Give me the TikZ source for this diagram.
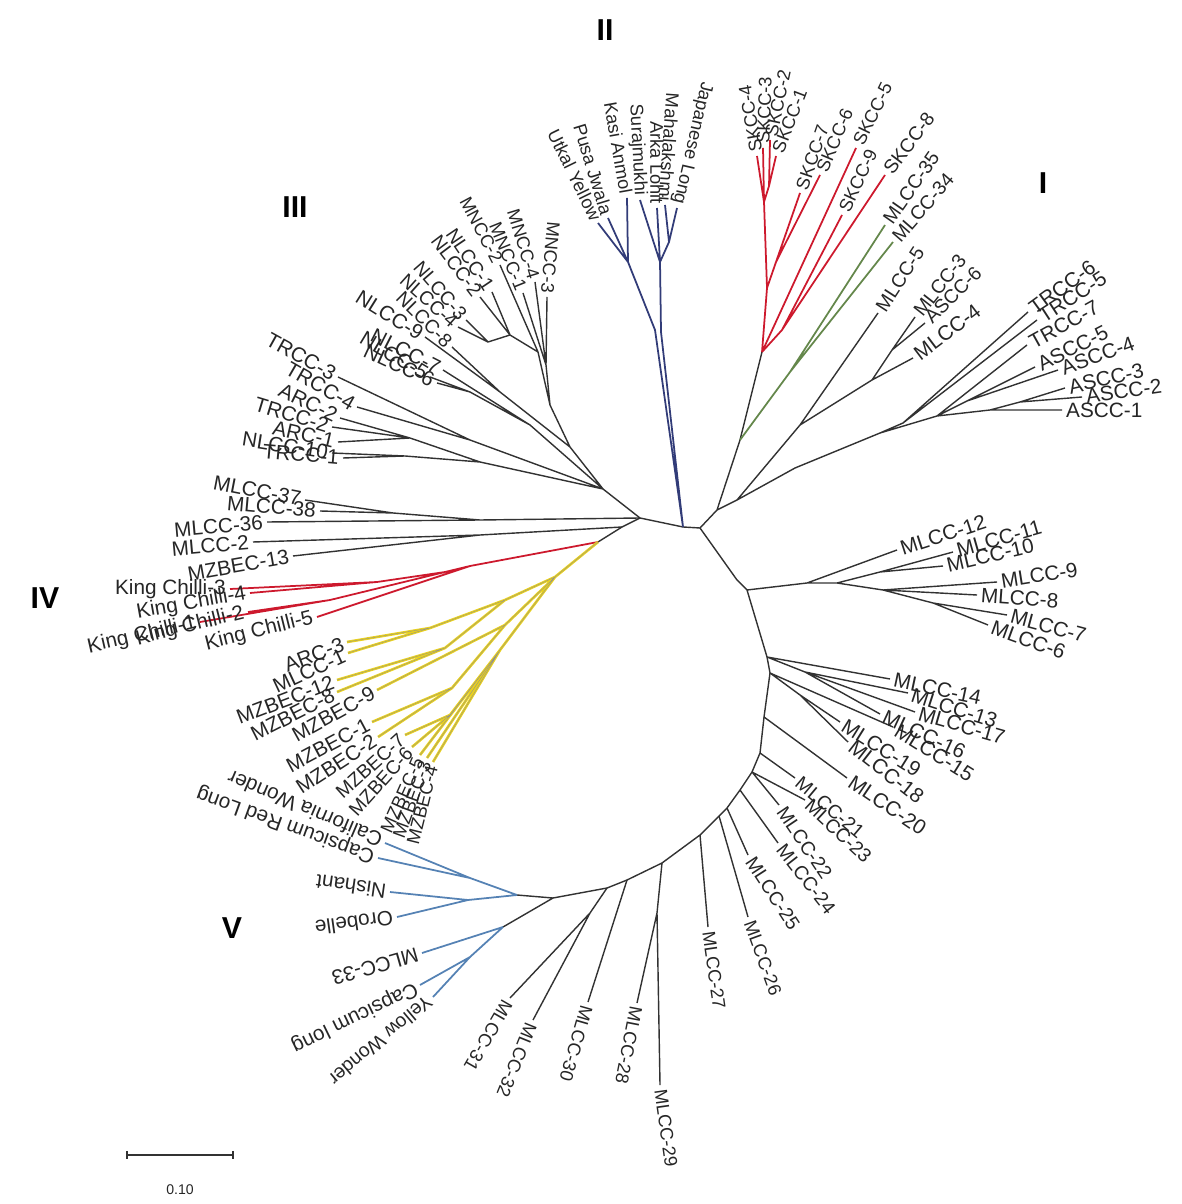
\documentclass[tikz,border=0pt]{standalone}
\usepackage{fontspec}
\setmainfont{Liberation Sans}
\definecolor{linec}{RGB}{50,50,50}
\definecolor{redc}{RGB}{205,25,45}
\definecolor{greenc}{RGB}{100,135,75}
\definecolor{navyc}{RGB}{50,60,120}
\definecolor{yelc}{RGB}{232,208,30}
\definecolor{bluec}{RGB}{85,130,180}

\begin{document}
\begin{tikzpicture}[x=0.01cm,y=-0.01cm,
	every node/.style={font=\fontsize{5.9}{7}\selectfont,inner sep=1pt,text=black!85},
	lblw/.style={anchor=west},
	lble/.style={anchor=east},
	steep/.style={font=\fontsize{5.2}{6}\selectfont},
	mid/.style={font=\fontsize{5.5}{6.5}\selectfont},
	clade/.style={font=\fontsize{8.6}{10}\selectfont\bfseries,inner sep=0pt,text=black},
	blk/.style={draw=linec,line width=0.4pt},
	redbr/.style={draw=redc,line width=0.5pt},
	greenbr/.style={draw=greenc,line width=0.5pt},
	navybr/.style={draw=navyc,line width=0.5pt},
	yelbr/.style={draw=yelc,line width=0.75pt,postaction={draw=linec!55,line width=0.1pt}},
	bluebr/.style={draw=bluec,line width=0.5pt}]
	
	\useasboundingbox (0,0) rectangle (1181,1204);
	
	% centre and backbone
	\coordinate (A) at (640,518);
	\coordinate (bII) at (683,527);
	\coordinate (B) at (700,528);
	\coordinate (L2) at (622,527);
	\coordinate (kj) at (598,542);
	\coordinate (bb1) at (737,580);
	\coordinate (bb2) at (747,590);
	\coordinate (bb3) at (767,657);
	\coordinate (bb4) at (770,673);
	\coordinate (bb5) at (764,717);
	\coordinate (bb6) at (760,753);
	\coordinate (bb7) at (752,772);
	\coordinate (bb8) at (740,790);
	\coordinate (bb9) at (727,808);
	\coordinate (bb9a) at (719,816);
	\coordinate (bb10) at (700,835);
	\coordinate (bb11) at (662,863);
	\coordinate (bb12) at (627,880);
	\coordinate (bb13) at (607,888);
	\coordinate (bb14) at (553,898);
	
	% clade II
	\coordinate (b1) at (655,330);
	\coordinate (b1b) at (661,332);
	\coordinate (b2) at (628,262);
	\coordinate (b3) at (660,262);
	\coordinate (b4) at (669,242);
	\coordinate (utkal) at (598,223);
	\coordinate (pusa) at (608,218);
	\coordinate (kasi) at (627,198);
	\coordinate (suraj) at (640,200);
	\coordinate (arka) at (657,208);
	\coordinate (maha) at (665,205);
	\coordinate (jap) at (677,208);
	
	% clade I
	\coordinate (c0) at (717,510);
	\coordinate (c1) at (737,500);
	\coordinate (cg) at (740,440);
	\coordinate (r0) at (762,352);
	\coordinate (r1) at (767,288);
	\coordinate (r2) at (776,262);
	\coordinate (r3) at (764,202);
	\coordinate (r5) at (769,186);
	\coordinate (r4) at (782,330);
	\coordinate (g0) at (790,372);
	\coordinate (skcc4) at (757,156);
	\coordinate (skcc3) at (763,148);
	\coordinate (skcc2) at (770,140);
	\coordinate (skcc1) at (776,156);
	\coordinate (skcc7) at (800,193);
	\coordinate (skcc6) at (820,175);
	\coordinate (skcc5) at (856,148);
	\coordinate (skcc9) at (842,215);
	\coordinate (skcc8) at (885,175);
	\coordinate (mlcc35) at (885,225);
	\coordinate (mlcc34) at (893,242);
	\coordinate (c2) at (800,425);
	\coordinate (c4) at (872,380);
	\coordinate (cm3) at (892,350);
	\coordinate (mlcc5) at (878,313);
	\coordinate (mlcc3) at (915,317);
	\coordinate (ascc6) at (925,323);
	\coordinate (mlcc4) at (913,358);
	\coordinate (c3) at (795,468);
	\coordinate (tr0) at (880,433);
	\coordinate (tr1) at (903,423);
	\coordinate (tr2) at (937,416);
	\coordinate (tr3) at (967,401);
	\coordinate (as1) at (990,410);
	\coordinate (as2) at (1020,402);
	\coordinate (trcc6) at (1028,312);
	\coordinate (trcc5) at (1037,320);
	\coordinate (trcc7) at (1027,345);
	\coordinate (ascc5) at (1035,367);
	\coordinate (ascc4) at (1058,370);
	\coordinate (ascc3) at (1065,388);
	\coordinate (ascc2) at (1082,397);
	\coordinate (ascc1) at (1062,410);
	
	% clade III
	\coordinate (t0) at (603,489);
	\coordinate (t1) at (570,447);
	\coordinate (t3) at (550,405);
	\coordinate (m0) at (546,365);
	\coordinate (t5) at (538,352);
	\coordinate (nl0) at (510,335);
	\coordinate (nl0b) at (488,342);
	\coordinate (nl89) at (500,392);
	\coordinate (t4) at (530,425);
	\coordinate (nl56) at (470,392);
	\coordinate (t6) at (470,440);
	\coordinate (t2) at (480,462);
	\coordinate (t2a) at (410,438);
	\coordinate (t2b) at (405,456);
	\coordinate (mncc3) at (547,297);
	\coordinate (mncc4) at (535,282);
	\coordinate (mncc1) at (523,293);
	\coordinate (mncc2) at (500,265);
	\coordinate (nlcc1) at (492,292);
	\coordinate (nlcc2) at (480,297);
	\coordinate (nlcc3) at (466,320);
	\coordinate (nlcc4) at (458,327);
	\coordinate (nlcc8) at (452,347);
	\coordinate (nlcc9) at (425,337);
	\coordinate (nlcc7) at (443,370);
	\coordinate (nlcc5) at (430,377);
	\coordinate (nlcc6) at (437,383);
	\coordinate (trcc3) at (338,377);
	\coordinate (trcc4) at (357,407);
	\coordinate (arc2) at (340,418);
	\coordinate (trcc2) at (332,427);
	\coordinate (arc1) at (338,442);
	\coordinate (nlcc10) at (332,453);
	\coordinate (trcc1) at (343,458);
	
	% clade IV
	\coordinate (L1) at (480,520);
	\coordinate (L1a) at (393,513);
	\coordinate (Lm) at (480,535);
	\coordinate (mlcc37) at (305,500);
	\coordinate (mlcc38) at (320,511);
	\coordinate (mlcc36) at (267,522);
	\coordinate (mlcc2) at (253,542);
	\coordinate (mzbec13) at (293,556);
	\coordinate (k0) at (470,566);
	\coordinate (k1) at (445,572);
	\coordinate (k2) at (377,582);
	\coordinate (k3) at (330,600);
	\coordinate (kc3) at (230,589);
	\coordinate (kc4) at (250,593);
	\coordinate (kc1) at (200,622);
	\coordinate (kc2) at (248,612);
	\coordinate (kc5) at (317,617);
	\coordinate (y0) at (555,577);
	\coordinate (y1) at (505,600);
	\coordinate (y1a) at (430,628);
	\coordinate (y2) at (445,648);
	\coordinate (y3) at (505,625);
	\coordinate (y3a) at (452,688);
	\coordinate (y4) at (500,650);
	\coordinate (y4a) at (450,715);
	\coordinate (arc3) at (347,642);
	\coordinate (mlcc1) at (348,653);
	\coordinate (mzbec12) at (337,680);
	\coordinate (mzbec8) at (337,692);
	\coordinate (mzbec9) at (377,690);
	\coordinate (mzbec1) at (372,722);
	\coordinate (mzbec2) at (378,737);
	\coordinate (mzbec7) at (405,735);
	\coordinate (mzbec6) at (412,747);
	\coordinate (mzbec5) at (420,755);
	\coordinate (mzbec3) at (427,758);
	\coordinate (mzbec4) at (433,762);
	
	% MLCC arc
	\coordinate (n1) at (807,583);
	\coordinate (n2) at (837,583);
	\coordinate (n2a) at (880,572);
	\coordinate (n3) at (883,590);
	\coordinate (n4) at (933,603);
	\coordinate (mlcc12) at (897,550);
	\coordinate (mlcc11) at (953,552);
	\coordinate (mlcc10) at (943,566);
	\coordinate (mlcc9) at (997,582);
	\coordinate (mlcc8) at (977,595);
	\coordinate (mlcc7) at (1007,615);
	\coordinate (mlcc6) at (988,625);
	\coordinate (b13) at (805,672);
	\coordinate (b18) at (800,695);
	\coordinate (mlcc14) at (890,679);
	\coordinate (mlcc13) at (908,693);
	\coordinate (mlcc17) at (915,712);
	\coordinate (mlcc16) at (880,714);
	\coordinate (mlcc15) at (893,727);
	\coordinate (mlcc19) at (840,722);
	\coordinate (mlcc18) at (848,742);
	\coordinate (mlcc20) at (847,778);
	\coordinate (mlcc21) at (795,778);
	\coordinate (mlcc23) at (805,800);
	\coordinate (mlcc22) at (779,805);
	\coordinate (mlcc24) at (778,843);
	\coordinate (mlcc25) at (748,855);
	\coordinate (mlcc26) at (748,917);
	\coordinate (mlcc27) at (708,927);
	\coordinate (b28) at (657,913);
	\coordinate (mlcc28) at (637,1003);
	\coordinate (mlcc29) at (660,1085);
	\coordinate (mlcc30) at (588,1002);
	\coordinate (b31) at (590,913);
	\coordinate (mlcc31) at (510,998);
	\coordinate (mlcc32) at (533,1020);
	
	% clade V
	\coordinate (v1) at (517,895);
	\coordinate (v2) at (470,878);
	\coordinate (v3) at (468,900);
	\coordinate (v4) at (503,927);
	\coordinate (v5) at (470,957);
	\coordinate (calw) at (385,843);
	\coordinate (caprl) at (378,858);
	\coordinate (nish) at (390,892);
	\coordinate (orob) at (397,917);
	\coordinate (mlcc33) at (422,953);
	\coordinate (caplong) at (420,985);
	\coordinate (yelw) at (433,997);
	
	% branches
	\draw[blk] (A) -- (bII) -- (B) -- (bb1) -- (bb2) -- (bb3) -- (bb4) -- (bb5) -- (bb6) -- (bb7) -- (bb8) -- (bb9) -- (bb9a) -- (bb10) -- (bb11) -- (bb12) -- (bb13) -- (bb14);
	\draw[blk] (A) -- (L2) -- (kj) (A) -- (t0);
	\draw[navybr] (bII) -- (b1) -- (b2) -- (utkal) (b2) -- (pusa) (b2) -- (kasi)
		(bII) -- (b1b) -- (b3) -- (suraj) (b3) -- (arka) (b3) -- (b4) -- (maha) (b4) -- (jap);
	\draw[blk] (B) -- (c0) -- (cg) -- (r0) (c0) -- (c1) -- (c2) -- (mlcc5) (c2) -- (c4) -- (cm3) -- (mlcc3) (cm3) -- (ascc6) (c4) -- (mlcc4)
		(c1) -- (c3) -- (tr0) -- (tr1) -- (trcc6) (tr1) -- (trcc5) (tr0) -- (tr2) -- (trcc7) (tr2) -- (tr3) -- (ascc5) (tr3) -- (ascc4)
		(tr2) -- (as1) -- (ascc1) (as1) -- (as2) -- (ascc3) (as2) -- (ascc2);
	\draw[redbr] (r0) -- (r1) -- (r3) -- (skcc4) (r3) -- (skcc3) (r3) -- (r5) -- (skcc2) (r5) -- (skcc1)
		(r1) -- (r2) -- (skcc7) (r2) -- (skcc6) (r0) -- (skcc5) (r0) -- (r4) -- (skcc9) (r4) -- (skcc8);
	\draw[greenbr] (cg) -- (g0) -- (mlcc35) (g0) -- (mlcc34);
	\draw[blk] (t0) -- (t1) -- (t3) -- (m0) -- (mncc3) (m0) -- (mncc4) (m0) -- (mncc1) (t3) -- (t5) -- (mncc2)
		(t5) -- (nl0) -- (nlcc1) (nl0) -- (nlcc2) (nl0) -- (nl0b) -- (nlcc3) (nl0b) -- (nlcc4)
		(t1) -- (nl89) -- (nlcc8) (nl89) -- (nlcc9) (t0) -- (t4) -- (nlcc7) (t4) -- (nl56) -- (nlcc5) (nl56) -- (nlcc6)
		(t0) -- (t6) -- (trcc3) (t6) -- (trcc4) (t0) -- (t2) -- (t2a) -- (arc2) (t2a) -- (trcc2) (t2a) -- (arc1)
		(t2) -- (t2b) -- (nlcc10) (t2b) -- (trcc1);
	\draw[blk] (A) -- (L1) -- (L1a) -- (mlcc37) (L1a) -- (mlcc38) (L1) -- (mlcc36) (L2) -- (Lm) -- (mlcc2) (Lm) -- (mzbec13);
	\draw[redbr] (kj) -- (k0) -- (kc5) (k0) -- (k1) -- (k2) -- (kc3) (k2) -- (kc4) (k1) -- (k3) -- (kc1) (k3) -- (kc2);
	\draw[yelbr] (kj) -- (y0) -- (y1) -- (y1a) -- (arc3) (y1a) -- (mlcc1) (y1) -- (y2) -- (mzbec12) (y2) -- (mzbec8)
		(y0) -- (y3) -- (mzbec9) (y3) -- (y3a) -- (mzbec1) (y3a) -- (mzbec2)
		(y0) -- (y4) -- (y4a) -- (mzbec7) (y4a) -- (mzbec6) (y4) -- (mzbec5) (y4) -- (mzbec3) (y4) -- (mzbec4);
	\draw[blk] (bb2) -- (n1) -- (mlcc12) (n1) -- (n2) -- (n2a) -- (mlcc11) (n2a) -- (mlcc10) (n2) -- (n3) -- (mlcc9) (n3) -- (mlcc8)
		(n3) -- (n4) -- (mlcc7) (n4) -- (mlcc6);
	\draw[blk] (bb3) -- (mlcc14) (bb3) -- (b13) -- (mlcc13) (b13) -- (mlcc17) (b13) -- (mlcc16) (bb4) -- (mlcc15)
		(bb4) -- (b18) -- (mlcc19) (b18) -- (mlcc18) (bb5) -- (mlcc20) (bb6) -- (mlcc21) (bb7) -- (mlcc23) (bb7) -- (mlcc22)
		(bb8) -- (mlcc24) (bb9) -- (mlcc25) (bb9a) -- (mlcc26) (bb10) -- (mlcc27) (bb11) -- (b28) -- (mlcc28) (b28) -- (mlcc29)
		(bb12) -- (mlcc30) (bb13) -- (b31) -- (mlcc31) (b31) -- (mlcc32);
	\draw[blk] (bb14) -- (v1) (bb14) -- (v4);
	\draw[bluebr] (v1) -- (v2) -- (calw) (v2) -- (caprl) (v1) -- (v3) -- (nish) (v3) -- (orob)
		(v4) -- (mlcc33) (v4) -- (v5) -- (caplong) (v5) -- (yelw);
	
	% labels
	\node[lble,steep,rotate=-64] (l-utkal) at (utkal) {Utkal Yellow};
	\node[lble,steep,rotate=-73] (l-pusa) at (pusa) {Pusa Jwala};
	\node[lble,steep,rotate=-80] (l-kasi) at (kasi) {Kasi Anmol};
	\node[lble,steep,rotate=-87] (l-suraj) at (suraj) {Surajmukhi};
	\node[lble,steep,rotate=-90] (l-arka) at (arka) {Arka Lohit};
	\node[lble,steep,rotate=-94] (l-maha) at (maha) {Mahalakshmi};
	\node[lble,steep,rotate=-103] (l-jap) at (jap) {Japanese Long};
	
	\node[lblw,steep,rotate=100] (l-skcc4) at (skcc4) {SKCC-4};
	\node[lblw,steep,rotate=88] (l-skcc3) at (skcc3) {SKCC-3};
	\node[lblw,steep,rotate=78] (l-skcc2) at (skcc2) {SKCC-2};
	\node[lblw,steep,rotate=69] (l-skcc1) at (skcc1) {SKCC-1};
	\node[lblw,steep,rotate=71] (l-skcc7) at (skcc7) {SKCC-7};
	\node[lblw,steep,rotate=67] (l-skcc6) at (skcc6) {SKCC-6};
	\node[lblw,steep,rotate=64] (l-skcc5) at (skcc5) {SKCC-5};
	\node[lblw,steep,rotate=65] (l-skcc9) at (skcc9) {SKCC-9};
	\node[lblw,mid,rotate=53] (l-skcc8) at (skcc8) {SKCC-8};
	\node[lblw,mid,rotate=55] (l-mlcc35) at (mlcc35) {MLCC-35};
	\node[lblw,mid,rotate=49] (l-mlcc34) at (mlcc34) {MLCC-34};
	\node[lblw,mid,rotate=57] (l-mlcc5) at (mlcc5) {MLCC-5};
	\node[lblw,mid,rotate=52] (l-mlcc3) at (mlcc3) {MLCC-3};
	\node[lblw,mid,rotate=45] (l-ascc6) at (ascc6) {ASCC-6};
	\node[lblw,rotate=37] (l-mlcc4) at (mlcc4) {MLCC-4};
	\node[lblw,rotate=36] (l-trcc6) at (trcc6) {TRCC-6};
	\node[lblw,rotate=33] (l-trcc5) at (trcc5) {TRCC-5};
	\node[lblw,rotate=29] (l-trcc7) at (trcc7) {TRCC-7};
	\node[lblw,rotate=27] (l-ascc5) at (ascc5) {ASCC-5};
	\node[lblw,rotate=20] (l-ascc4) at (ascc4) {ASCC-4};
	\node[lblw,rotate=13] (l-ascc3) at (ascc3) {ASCC-3};
	\node[lblw,rotate=8] (l-ascc2) at (ascc2) {ASCC-2};
	\node[lblw,rotate=0] (l-ascc1) at (ascc1) {ASCC-1};
	
	\node[lblw,rotate=18] (l-mlcc12) at (mlcc12) {MLCC-12};
	\node[lblw,rotate=16] (l-mlcc11) at (mlcc11) {MLCC-11};
	\node[lblw,rotate=13] (l-mlcc10) at (mlcc10) {MLCC-10};
	\node[lblw,rotate=9] (l-mlcc9) at (mlcc9) {MLCC-9};
	\node[lblw,rotate=-4] (l-mlcc8) at (mlcc8) {MLCC-8};
	\node[lblw,rotate=-15] (l-mlcc7) at (mlcc7) {MLCC-7};
	\node[lblw,rotate=-20] (l-mlcc6) at (mlcc6) {MLCC-6};
	\node[lblw,rotate=-12] (l-mlcc14) at (mlcc14) {MLCC-14};
	\node[lblw,rotate=-18] (l-mlcc13) at (mlcc13) {MLCC-13};
	\node[lblw,rotate=-16] (l-mlcc17) at (mlcc17) {MLCC-17};
	\node[lblw,rotate=-25] (l-mlcc16) at (mlcc16) {MLCC-16};
	\node[lblw,rotate=-32] (l-mlcc15) at (mlcc15) {MLCC-15};
	\node[lblw,rotate=-32] (l-mlcc19) at (mlcc19) {MLCC-19};
	\node[lblw,rotate=-38] (l-mlcc18) at (mlcc18) {MLCC-18};
	\node[lblw,rotate=-34] (l-mlcc20) at (mlcc20) {MLCC-20};
	\node[lblw,mid,rotate=-40] (l-mlcc21) at (mlcc21) {MLCC-21};
	\node[lblw,mid,rotate=-43] (l-mlcc23) at (mlcc23) {MLCC-23};
	\node[lblw,mid,rotate=-56] (l-mlcc22) at (mlcc22) {MLCC-22};
	\node[lblw,mid,rotate=-52] (l-mlcc24) at (mlcc24) {MLCC-24};
	\node[lblw,mid,rotate=-57] (l-mlcc25) at (mlcc25) {MLCC-25};
	\node[lblw,steep,rotate=-70] (l-mlcc26) at (mlcc26) {MLCC-26};
	\node[lblw,steep,rotate=-82] (l-mlcc27) at (mlcc27) {MLCC-27};
	\node[lblw,steep,rotate=-82] (l-mlcc29) at (mlcc29) {MLCC-29};
	\node[lblw,steep,rotate=-101] (l-mlcc28) at (mlcc28) {MLCC-28};
	\node[lblw,steep,rotate=-106] (l-mlcc30) at (mlcc30) {MLCC-30};
	\node[lblw,steep,rotate=-112] (l-mlcc32) at (mlcc32) {MLCC-32};
	\node[lblw,steep,rotate=-120] (l-mlcc31) at (mlcc31) {MLCC-31};
	
	\node[lblw,rotate=157] (l-calw) at (calw) {California Wonder};
	\node[lblw,rotate=160] (l-caprl) at (caprl) {Capsicum Red Long};
	\node[lblw,rotate=172] (l-nish) at (nish) {Nishant};
	\node[lblw,rotate=188] (l-orob) at (orob) {Orobelle};
	\node[lblw,rotate=196] (l-mlcc33) at (mlcc33) {MLCC-33};
	\node[lblw,rotate=206] (l-caplong) at (caplong) {Capsicum long};
	\node[lblw,mid,rotate=220] (l-yelw) at (yelw) {Yellow Wonder};
	
	\node[lble,steep,rotate=-95] (l-mncc3) at (mncc3) {MNCC-3};
	\node[lble,steep,rotate=-73] (l-mncc4) at (mncc4) {MNCC-4};
	\node[lble,steep,rotate=-68] (l-mncc1) at (mncc1) {MNCC-1};
	\node[lble,steep,rotate=-62] (l-mncc2) at (mncc2) {MNCC-2};
	\node[lble,mid,rotate=-56] (l-nlcc1) at (nlcc1) {NLCC-1};
	\node[lble,mid,rotate=-53] (l-nlcc2) at (nlcc2) {NLCC-2};
	\node[lble,mid,rotate=-49] (l-nlcc3) at (nlcc3) {NLCC-3};
	\node[lble,mid,rotate=-42] (l-nlcc4) at (nlcc4) {NLCC-4};
	\node[lble,mid,rotate=-45] (l-nlcc8) at (nlcc8) {NLCC-8};
	\node[lble,rotate=-32] (l-nlcc9) at (nlcc9) {NLCC-9};
	\node[lble,rotate=-27] (l-nlcc7) at (nlcc7) {NLCC-7};
	\node[lble,rotate=-31] (l-nlcc5) at (nlcc5) {NLCC-5};
	\node[lble,rotate=-25] (l-nlcc6) at (nlcc6) {NLCC-6};
	\node[lble,rotate=-29] (l-trcc3) at (trcc3) {TRCC-3};
	\node[lble,rotate=-30] (l-trcc4) at (trcc4) {TRCC-4};
	\node[lble,rotate=-26] (l-arc2) at (arc2) {ARC-2};
	\node[lble,rotate=-17] (l-trcc2) at (trcc2) {TRCC-2};
	\node[lble,rotate=-13] (l-arc1) at (arc1) {ARC-1};
	\node[lble,rotate=-9] (l-nlcc10) at (nlcc10) {NLCC-10};
	\node[lble,rotate=-5] (l-trcc1) at (trcc1) {TRCC-1};
	
	\node[lble,rotate=-11] (l-mlcc37) at (mlcc37) {MLCC-37};
	\node[lble,rotate=-5] (l-mlcc38) at (mlcc38) {MLCC-38};
	\node[lble,rotate=5] (l-mlcc36) at (mlcc36) {MLCC-36};
	\node[lble,rotate=5] (l-mlcc2) at (mlcc2) {MLCC-2};
	\node[lble,rotate=10] (l-mzbec13) at (mzbec13) {MZBEC-13};
	\node[lble,rotate=0] (l-kc3) at (kc3) {King Chilli-3};
	\node[lble,rotate=10] (l-kc4) at (kc4) {King Chilli-4};
	\node[lble,rotate=13] (l-kc1) at (kc1) {King Chilli-1};
	\node[lble,rotate=14] (l-kc2) at (kc2) {King Chilli-2};
	\node[lble,rotate=14] (l-kc5) at (kc5) {King Chilli-5};
	\node[lble,rotate=21] (l-arc3) at (arc3) {ARC-3};
	\node[lble,rotate=25] (l-mlcc1) at (mlcc1) {MLCC-1};
	\node[lble,rotate=21] (l-mzbec12) at (mzbec12) {MZBEC-12};
	\node[lble,rotate=27] (l-mzbec8) at (mzbec8) {MZBEC-8};
	\node[lble,rotate=29] (l-mzbec9) at (mzbec9) {MZBEC-9};
	\node[lble,rotate=28] (l-mzbec1) at (mzbec1) {MZBEC-1};
	\node[lble,rotate=33] (l-mzbec2) at (mzbec2) {MZBEC-2};
	\node[lble,mid,rotate=42] (l-mzbec7) at (mzbec7) {MZBEC-7};
	\node[lble,mid,rotate=48] (l-mzbec6) at (mzbec6) {MZBEC-6};
	\node[lble,steep,rotate=66] (l-mzbec5) at (mzbec5) {MZBEC-5};
	\node[lble,steep,rotate=70] (l-mzbec3) at (mzbec3) {MZBEC-3};
	\node[lble,steep,rotate=76] (l-mzbec4) at (mzbec4) {MZBEC-4};
	
	% clade names and scale
	\node[clade] (nI) at (1043,183) {I};
	\node[clade] (nII) at (605,30) {II};
	\node[clade] (nIII) at (295,207) {III};
	\node[clade] (nIV) at (45,598) {IV};
	\node[clade] (nV) at (232,928) {V};
	\coordinate (sb0) at (127,1155);
	\coordinate (sb1) at (233,1155);
	\draw[blk] (sb0) -- (sb1) ([yshift=1.2pt]sb0) -- ([yshift=-1.2pt]sb0) ([yshift=1.2pt]sb1) -- ([yshift=-1.2pt]sb1);
	\node[font=\fontsize{4}{5}\selectfont] (sbl) at (180,1190) {0.10};
\end{tikzpicture}
\end{document}
